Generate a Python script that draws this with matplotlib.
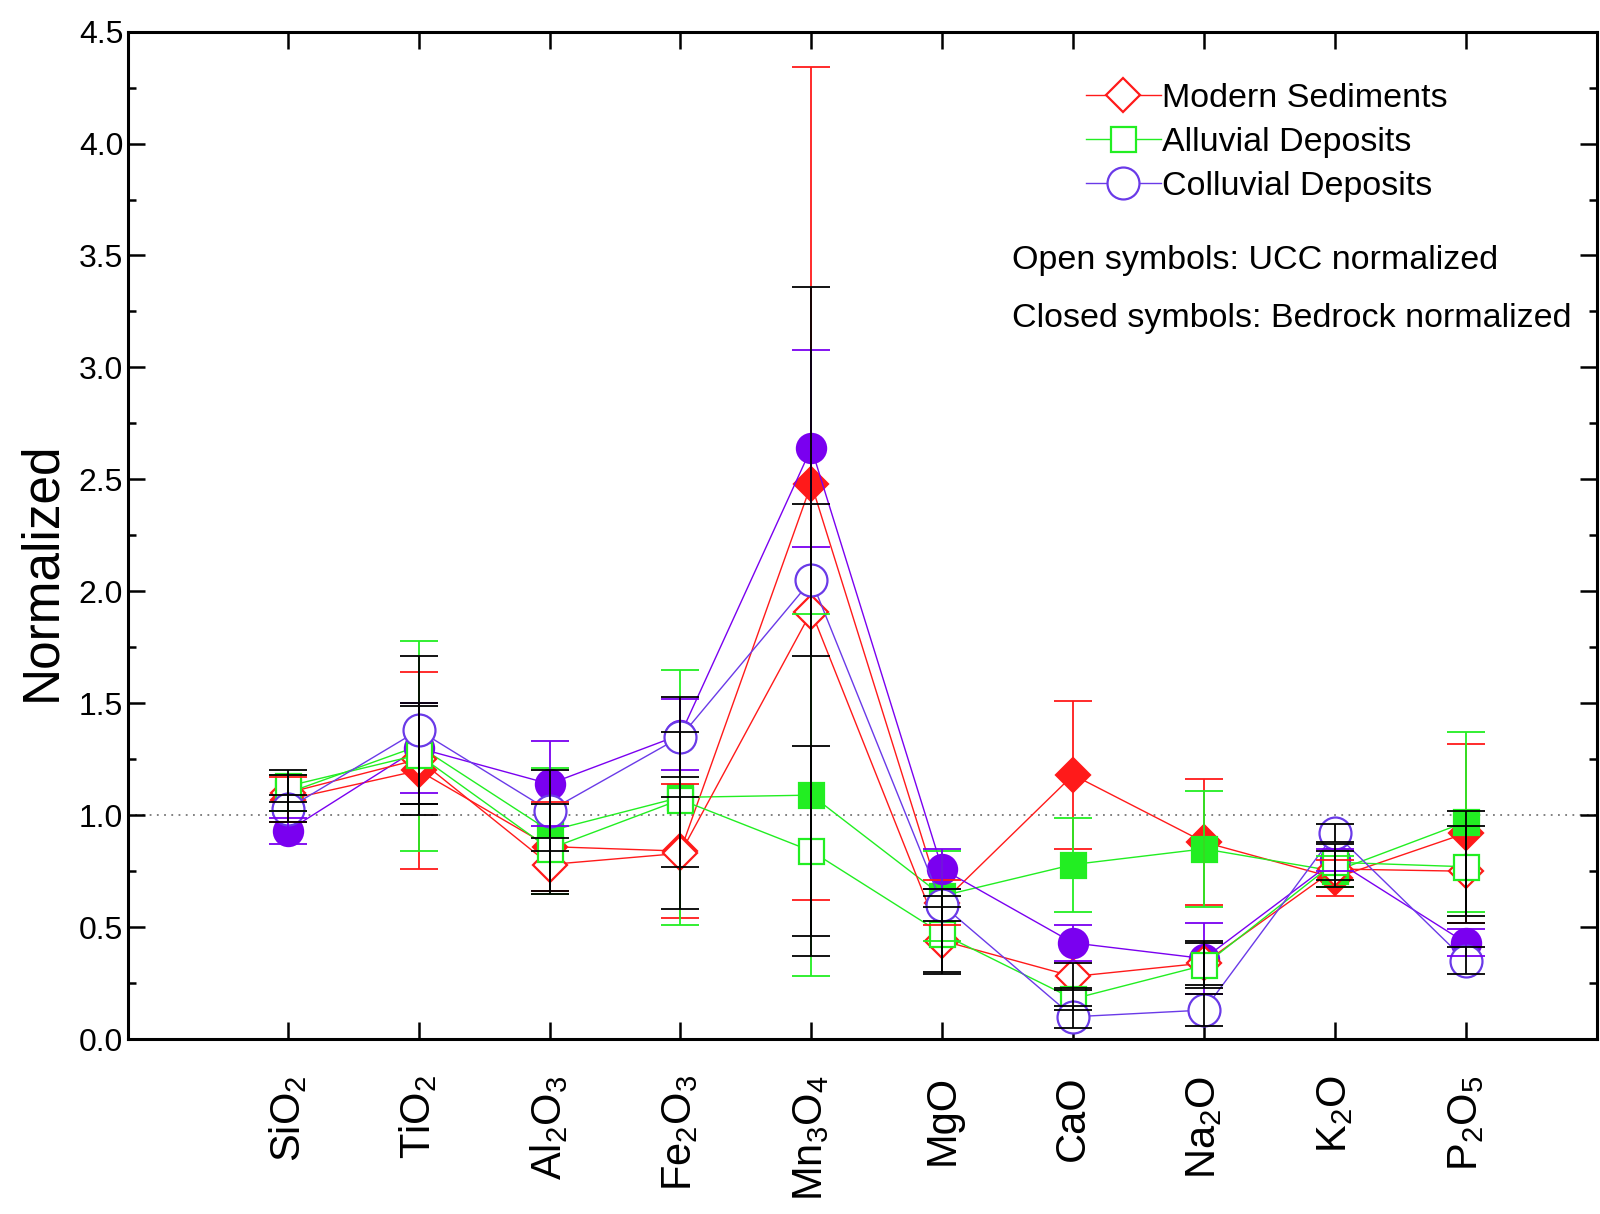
import numpy as np
import matplotlib.pyplot as plt
from matplotlib.ticker import MultipleLocator, FixedLocator
from matplotlib.lines import Line2D

plt.rcParams['font.family'] = ['Liberation Sans', 'DejaVu Sans']
plt.rcParams['mathtext.fontset'] = 'custom'
plt.rcParams['mathtext.rm'] = 'Liberation Sans'
plt.rcParams['mathtext.default'] = 'regular'

# categories (oxides) along x
oxides = ['SiO$_2$', 'TiO$_2$', 'Al$_2$O$_3$', 'Fe$_2$O$_3$', 'Mn$_3$O$_4$',
          'MgO', 'CaO', 'Na$_2$O', 'K$_2$O', 'P$_2$O$_5$']

# open symbols: UCC normalized
modern_ucc = [1.10, 1.25, 0.78, 0.83, 1.91, 0.44, 0.28, 0.34, 0.76, 0.75]
modern_ucc_err = [0.08, 0.25, 0.12, 0.25, 1.45, 0.15, 0.06, 0.10, 0.08, 0.20]
alluvial_ucc = [1.13, 1.27, 0.85, 1.07, 0.84, 0.47, 0.18, 0.33, 0.79, 0.77]
alluvial_ucc_err = [0.07, 0.22, 0.20, 0.30, 0.47, 0.17, 0.05, 0.10, 0.08, 0.25]
colluvial_ucc = [1.03, 1.38, 1.02, 1.35, 2.05, 0.60, 0.10, 0.13, 0.92, 0.35]
colluvial_ucc_err = [0.06, 0.33, 0.18, 0.18, 0.34, 0.07, 0.05, 0.07, 0.04, 0.06]

# closed symbols: bedrock normalized
modern_bed = [1.07, 1.20, 0.86, 0.84, 2.48, 0.61, 1.18, 0.88, 0.72, 0.92]
modern_bed_err = [0.10, 0.44, 0.20, 0.30, 1.86, 0.10, 0.33, 0.28, 0.08, 0.40]
alluvial_bed = [1.10, 1.31, 0.93, 1.08, 1.09, 0.64, 0.78, 0.85, 0.75, 0.97]
alluvial_bed_err = [0.08, 0.47, 0.28, 0.57, 0.81, 0.20, 0.21, 0.26, 0.07, 0.40]
colluvial_bed = [0.93, 1.30, 1.14, 1.36, 2.64, 0.76, 0.43, 0.36, 0.80, 0.43]
colluvial_bed_err = [0.06, 0.20, 0.19, 0.16, 0.44, 0.09, 0.08, 0.16, 0.05, 0.06]

RED = '#ff1a1a'
GREEN = '#22ee22'
PURPLE = '#7a00f0'
PURPLE_OPEN = '#6a3ae8'
FS = 24.5

x = np.arange(1, len(oxides) + 1)

fig = plt.figure(figsize=(16, 12.14), dpi=100)
ax = fig.add_axes([0.08, 0.144, 0.918, 0.830])

ax.axhline(1.0, color='#777777', ls=(0, (1, 3)), lw=1.3, zorder=0)


def draw(vals, err, color, marker, ms, filled, ecolor, z):
    # line + markers, then the error bars above them
    ax.plot(x, vals, color=color, lw=1.0, marker=marker, ms=ms,
            mfc=color if filled else 'white', mec=color, mew=1.6, zorder=z)
    ax.errorbar(x, vals, yerr=err, fmt='none', ecolor=ecolor, elinewidth=1.3,
                capsize=14, capthick=1.3, zorder=5)


# closed symbols first, open (white filled) symbols on top
draw(modern_bed, modern_bed_err, RED, 'D', 17, True, RED, 3)
draw(alluvial_bed, alluvial_bed_err, GREEN, 's', 18, True, GREEN, 3)
draw(colluvial_bed, colluvial_bed_err, PURPLE, 'o', 21, True, PURPLE, 3)
draw(modern_ucc, modern_ucc_err, RED, 'D', 17, False, 'black', 4)
draw(alluvial_ucc, alluvial_ucc_err, GREEN, 's', 18, False, 'black', 4)
draw(colluvial_ucc, colluvial_ucc_err, PURPLE_OPEN, 'o', 23, False, 'black', 4)

ax.set_xlim(-0.22, 11.0)
ax.set_ylim(0, 4.5)
ax.xaxis.set_major_locator(FixedLocator(x))
ax.set_xticklabels(oxides, rotation=90, fontsize=30)
ax.yaxis.set_major_locator(MultipleLocator(0.5))
ax.yaxis.set_minor_locator(MultipleLocator(0.25))
ax.yaxis.set_major_formatter(plt.FuncFormatter(lambda v, p: f'{v:.1f}'))
ax.tick_params(axis='y', labelsize=23)
ax.tick_params(which='both', direction='in', top=True, right=True, width=1.8)
ax.tick_params(which='major', length=12)
ax.tick_params(which='minor', length=6)
ax.tick_params(axis='x', pad=26)
for s in ax.spines.values():
    s.set_linewidth(2.2)

ax.set_ylabel('Normalized', fontsize=37, ha='center', va='center')
ax.yaxis.set_label_coords(-0.059, 0.464)

handles = [
    Line2D([], [], color=RED, lw=1.0, marker='D', ms=17, mfc='white', mec=RED, mew=1.6),
    Line2D([], [], color=GREEN, lw=1.0, marker='s', ms=18, mfc='white', mec=GREEN, mew=1.6),
    Line2D([], [], color=PURPLE_OPEN, lw=1.0, marker='o', ms=23, mfc='white', mec=PURPLE_OPEN, mew=1.6),
]
ax.legend(handles, ['Modern Sediments', 'Alluvial Deposits', 'Colluvial Deposits'],
          loc='upper left', bbox_to_anchor=(0.652, 0.949), frameon=False,
          fontsize=FS, handlelength=2.2, handletextpad=0.05, labelspacing=0.38,
          borderpad=0, borderaxespad=0)

ax.text(0.602, 0.773, 'Open symbols: UCC normalized', transform=ax.transAxes,
        fontsize=FS, va='center', ha='left')
ax.text(0.602, 0.715, 'Closed symbols: Bedrock normalized', transform=ax.transAxes,
        fontsize=FS, va='center', ha='left')

fig.savefig('out.png', dpi=100)
